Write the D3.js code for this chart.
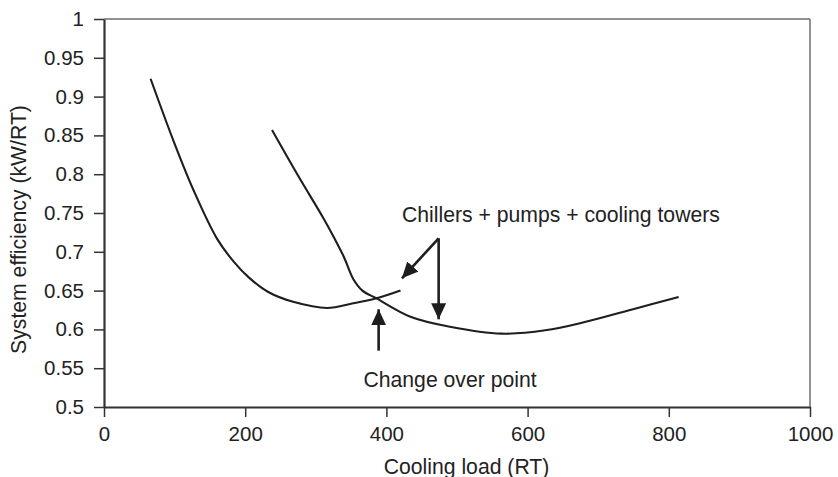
<!DOCTYPE html>
<html>
<head>
<meta charset="utf-8">
<script src="https://cdn.jsdelivr.net/npm/d3@7"></script>
<style>
  html, body { margin: 0; padding: 0; background: #fff; }
  svg { display: block; font-family: "Liberation Sans", Arial, Helvetica, sans-serif; }
</style>
</head>
<body>
<svg id="chart" width="838" height="477"></svg>
<script>
// ---- data ----
const xTicks = [0, 200, 400, 600, 800, 1000];
const yTicks = [0.5, 0.55, 0.6, 0.65, 0.7, 0.75, 0.8, 0.85, 0.9, 0.95, 1];

// lower-capacity configuration (left curve)
const loadA = [66, 98, 127, 160, 184, 205, 232, 268, 316, 353, 386, 420];
const effA  = [0.923, 0.844, 0.779, 0.717, 0.687, 0.667, 0.6485, 0.6355, 0.6276, 0.6336, 0.640, 0.650];

// higher-capacity configuration (right curve)
const loadB = [238, 275, 311, 326, 340, 353, 366, 386, 434, 490, 563, 625, 681, 752, 814];
const effB  = [0.857, 0.798, 0.743, 0.718, 0.693, 0.665, 0.650, 0.640, 0.6164, 0.6035, 0.5945, 0.5988, 0.6095, 0.6267, 0.6418];

// annotations (data coordinates)
const labelTowers = { text: "Chillers + pumps + cooling towers", x: 422, y: 0.738 };
const labelChange = { text: "Change over point", x: 367.5, y: 0.5262 };
const arrows = [
  { x1: 474, y1: 0.7174, x2: 422, y2: 0.6659 },
  { x1: 474, y1: 0.7174, x2: 474, y2: 0.613 },
  { x1: 389, y1: 0.5726, x2: 389, y2: 0.6259 }
];

// ---- layout ----
const svg = d3.select("#chart");
const mLeft = 104, mTop = 19, mRight = 810, mBottom = 407;
const x = d3.scaleLinear().domain([0, 1000]).range([mLeft, mRight]);
const y = d3.scaleLinear().domain([0.5, 1]).range([mBottom, mTop]);
const ink = "#1e1e1e";

// frame top/right (grey)
svg.append("line").attr("x1", mLeft).attr("x2", mRight).attr("y1", mTop).attr("y2", mTop)
  .attr("stroke", "#6e6e6e").attr("stroke-width", 1.5);
svg.append("line").attr("x1", mRight).attr("x2", mRight).attr("y1", mTop).attr("y2", mBottom)
  .attr("stroke", "#6e6e6e").attr("stroke-width", 1.5);

// axes
const yAxis = d3.axisLeft(y).tickValues(yTicks).tickSize(10).tickPadding(10)
  .tickFormat(d => d3.format("~g")(d)).tickSizeOuter(0);
const xAxis = d3.axisBottom(x).tickValues(xTicks).tickSize(10).tickPadding(9.5)
  .tickFormat(d3.format("d")).tickSizeOuter(0);

const gy = svg.append("g").attr("transform", `translate(${mLeft},0)`).call(yAxis);
const gx = svg.append("g").attr("transform", `translate(0,${mBottom})`).call(xAxis);
[gx, gy].forEach(g => {
  g.select(".domain").attr("stroke", "#333").attr("stroke-width", 2.2);
  g.selectAll(".tick line").attr("stroke", "#333").attr("stroke-width", 1.5);
  g.selectAll(".tick text").attr("fill", "#222").style("font-size", "20.5px")
    .style("font-family", "'Liberation Sans', Arial, sans-serif");
});

// axis titles
svg.append("text").attr("x", 466.5).attr("y", 474).attr("text-anchor", "middle")
  .attr("fill", "#222").style("font-size", "21.2px").text("Cooling load (RT)");
svg.append("text").attr("transform", "translate(26,229.5) rotate(-90)")
  .attr("text-anchor", "middle").attr("fill", "#222").style("font-size", "21.2px")
  .text("System efficiency (kW/RT)");

// curves
const line = d3.line().x(d => x(d[0])).y(d => y(d[1])).curve(d3.curveCatmullRom.alpha(0.5));
svg.append("path").datum(d3.zip(loadA, effA)).attr("d", line)
  .attr("fill", "none").attr("stroke", ink).attr("stroke-width", 2.1);
svg.append("path").datum(d3.zip(loadB, effB)).attr("d", line)
  .attr("fill", "none").attr("stroke", ink).attr("stroke-width", 2.1);

// arrows
svg.append("defs").append("marker").attr("id", "ah")
  .attr("viewBox", "0 0 16 16").attr("refX", 16).attr("refY", 8)
  .attr("markerWidth", 16).attr("markerHeight", 16).attr("markerUnits", "userSpaceOnUse")
  .attr("orient", "auto")
  .append("path").attr("d", "M0,0.5 L16,8 L0,15.5 Z").attr("fill", ink);
svg.selectAll(".arrow").data(arrows).join("line").attr("class", "arrow")
  .attr("x1", d => x(d.x1)).attr("y1", d => y(d.y1))
  .attr("x2", d => x(d.x2)).attr("y2", d => y(d.y2))
  .attr("stroke", ink).attr("stroke-width", 2.6).attr("marker-end", "url(#ah)");

// labels
[labelTowers, labelChange].forEach(l => {
  svg.append("text").attr("x", x(l.x)).attr("y", y(l.y)).attr("fill", "#222")
    .style("font-size", "21.2px").text(l.text);
});
</script>
</body>
</html>
